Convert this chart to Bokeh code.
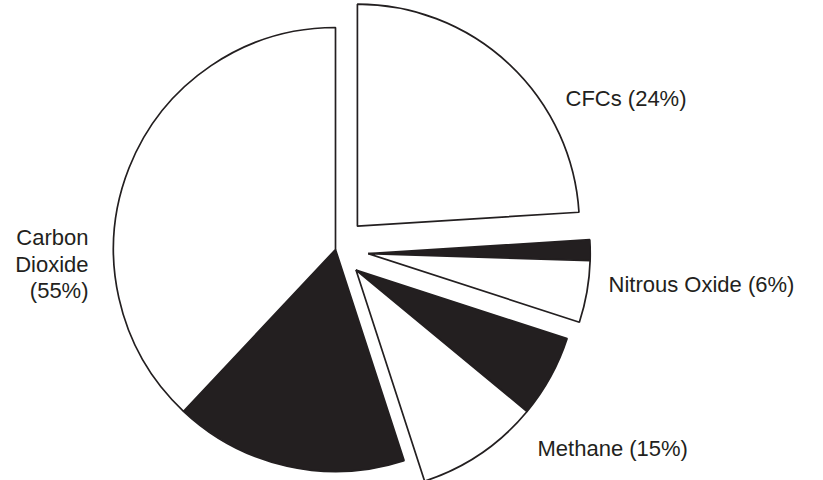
import numpy as np
from bokeh.plotting import figure
from bokeh.models import ColumnDataSource, Range1d
from bokeh.core.properties import value
from bokeh.embed import file_html
from bokeh.resources import INLINE

# Share of greenhouse warming by gas (percent of the whole pie)
gases = ["CFCs", "Nitrous Oxide", "Methane", "Carbon Dioxide"]
shares = [24, 6, 15, 55]
# Portion of each gas drawn as the dark sub-wedge (leading edge, clockwise)
dark_shares = [0, 1.5, 6, 17]

W, H = 823, 480
CX, CY = 335, 231          # centre of the pie in screen-like data units
R = 222                    # pie radius
EXPLODE = {"CFCs": 32, "Nitrous Oxide": 33, "Methane": 29, "Carbon Dioxide": 0}
INK = "#231f20"

p = figure(width=W, height=H, output_backend="svg", toolbar_location=None,
           x_range=Range1d(0, W), y_range=Range1d(0, H),
           x_axis_location=None, y_axis_location=None, min_border=0,
           match_aspect=False)
p.grid.visible = False
p.outline_line_color = None
p.background_fill_color = "white"
p.border_fill_color = "white"

xs, ys, starts, ends, fills = [], [], [], [], []
angle = 90.0
for gas, share, dark in zip(gases, shares, dark_shares):
    span = share * 3.6
    mid = np.radians(angle - span / 2)
    ox = CX + EXPLODE[gas] * np.cos(mid)
    oy = CY + EXPLODE[gas] * np.sin(mid)
    # dark part first (clockwise from the slice's leading edge), then light part
    parts = [(dark, INK), (share - dark, "white")]
    a = angle
    for part, colour in parts:
        if part <= 0:
            continue
        b = a - part * 3.6
        xs.append(ox); ys.append(oy)
        starts.append(np.radians(b)); ends.append(np.radians(a))
        fills.append(colour)
        a = b
    angle -= span

src = ColumnDataSource(dict(x=xs, y=ys, start=starts, end=ends, fill=fills))
p.wedge(x="x", y="y", radius=R, start_angle="start", end_angle="end",
        fill_color="fill", line_color=INK, line_width=1.7, source=src)

# Labels
labels = {g: f"{g} ({s}%)" for g, s in zip(gases, shares)}
labels["Carbon Dioxide"] = "Carbon\nDioxide\n(55%)"

left_labels = dict(
    x=[565, 608, 537],
    y=[382, 196, 32],
    text=[labels["CFCs"], labels["Nitrous Oxide"], labels["Methane"]],
)
p.text(x="x", y="y", text="text", source=ColumnDataSource(left_labels),
       text_font=value("Liberation Sans"), text_font_size="22px",
       text_color=INK, text_align="left", text_baseline="alphabetic")

co2_lines = labels["Carbon Dioxide"].split("\n")
co2 = dict(x=[88] * len(co2_lines), y=[243, 216, 190], text=co2_lines)
p.text(x="x", y="y", text="text", source=ColumnDataSource(co2),
       text_font=value("Liberation Sans"), text_font_size="22px",
       text_color=INK, text_align="right", text_baseline="alphabetic")

open("out.html", "w").write(file_html(p, INLINE))
